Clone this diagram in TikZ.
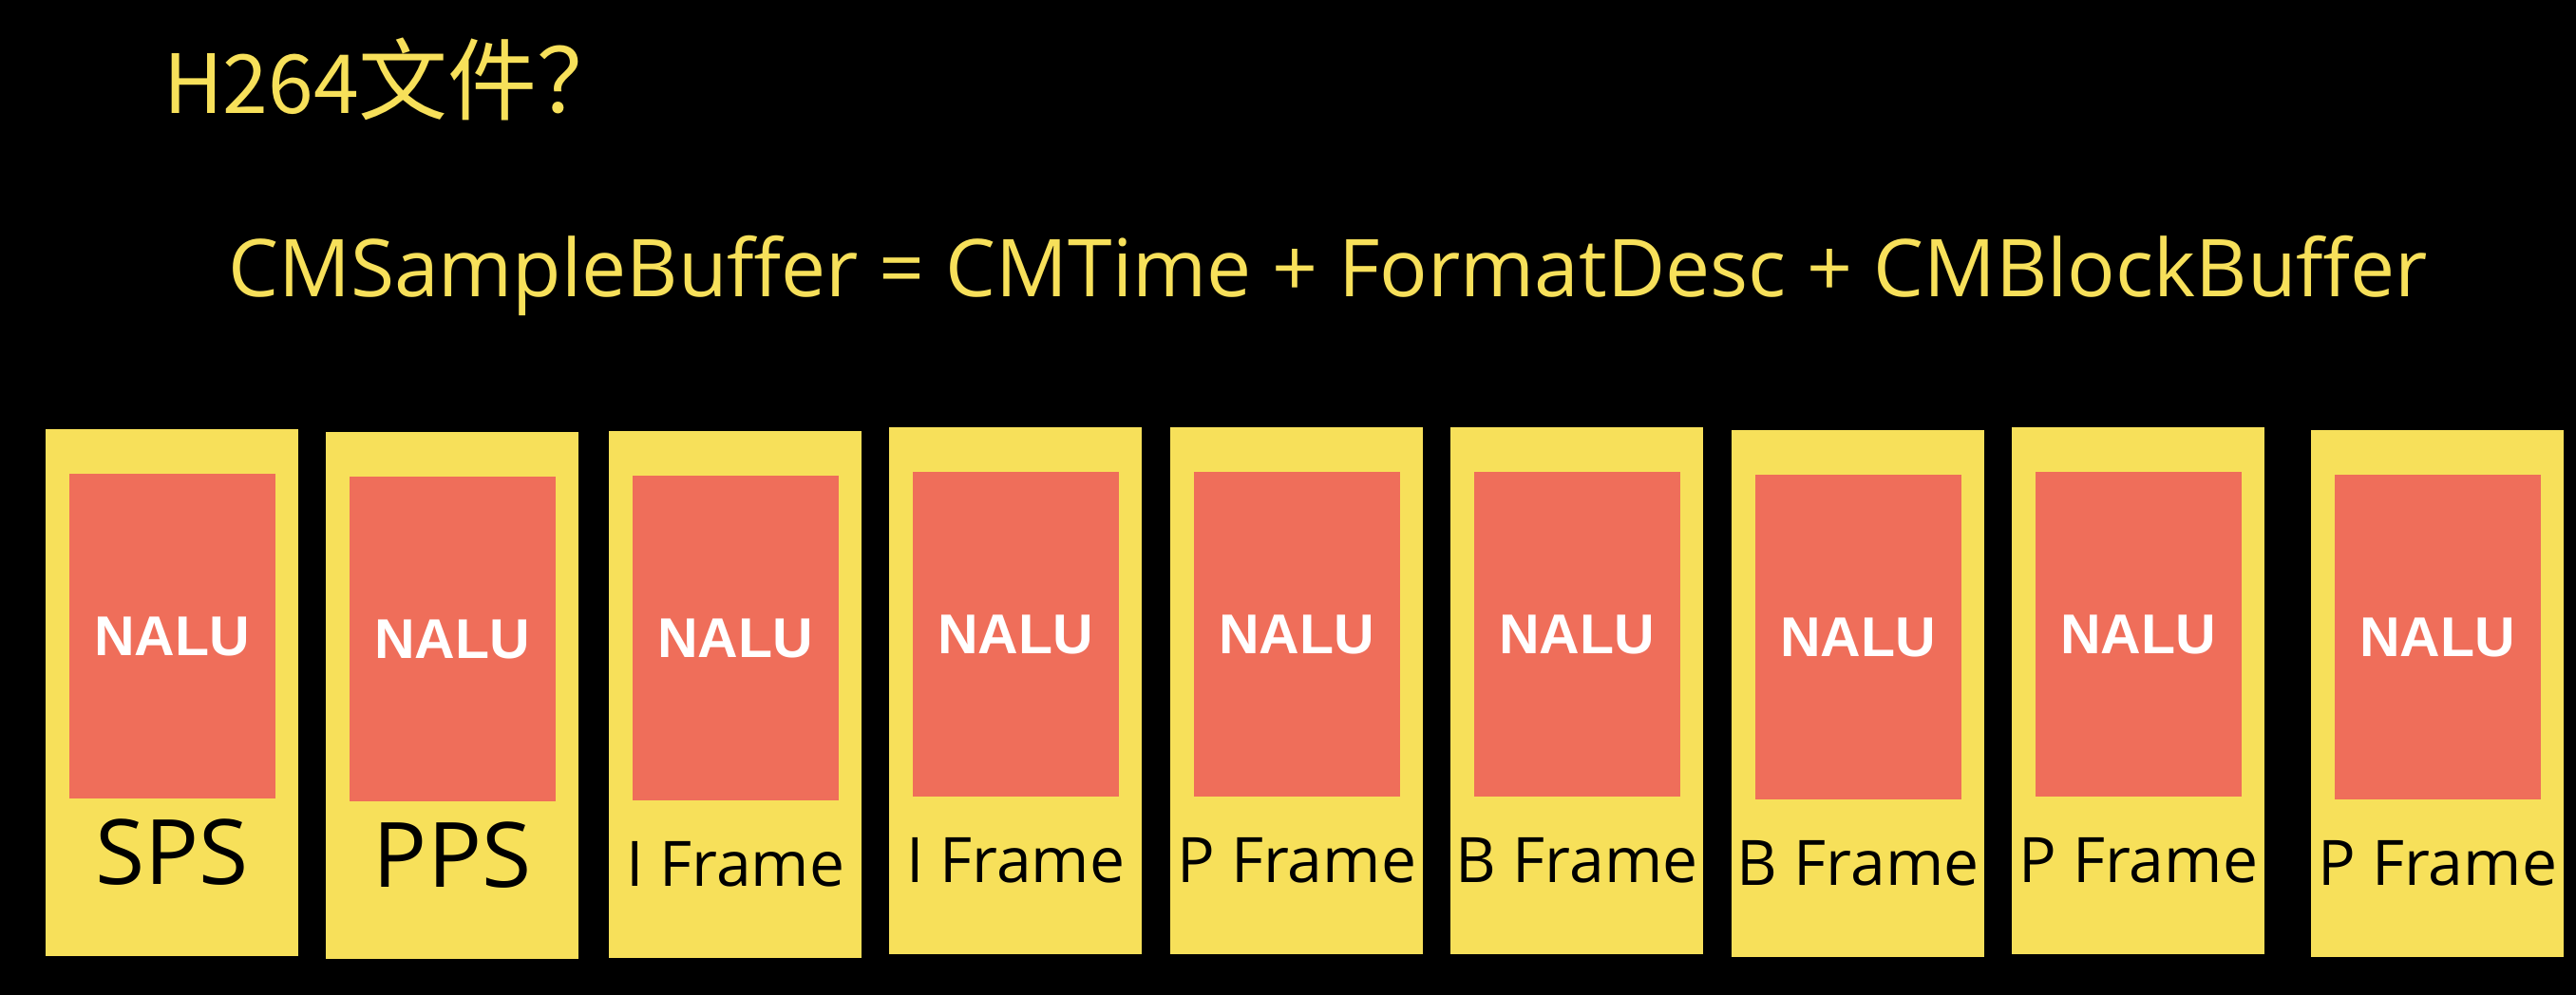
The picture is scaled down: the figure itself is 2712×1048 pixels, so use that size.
\documentclass[tikz,border=0pt]{standalone}
\usepackage{fontspec}
\setmainfont{Open Sans}
\newfontfamily\cjk{Noto Sans CJK SC}
\newfontfamily\nalufont{Liberation Sans}
\usetikzlibrary{positioning}
\definecolor{padyellow}{HTML}{F7E05A}
\definecolor{nalured}{HTML}{EF6E5A}

\begin{document}
\begin{tikzpicture}[x=1pt,y=-1pt,
  framebox/.style={fill=padyellow, anchor=north west, inner sep=0pt,
    minimum width=266pt, minimum height=555pt},
  nalubox/.style={fill=nalured, inner sep=0pt, text=white,
    minimum width=217pt, minimum height=342pt,
    font=\nalufont\bfseries\fontsize{59}{59}\selectfont},
  framelabel/.style={anchor=base, inner sep=0pt},
  headline/.style={anchor=base west, inner sep=0pt, text=padyellow}]
\fill[black] (0,0) rectangle (2712,1048);
\useasboundingbox (0,0) rectangle (2712,1048);

% titles
\node[headline, font=\cjk\fontsize{86}{86}\selectfont] (h264) at (172,120)
  {H264\fontsize{94}{94}\selectfont 文件？};
\node[headline, font=\fontsize{84}{84}\selectfont] (formula) at (240,313)
  {CMSampleBuffer = CMTime + FormatDesc + CMBlockBuffer};

% the NAL units
\foreach \i/\x/\y/\lbl/\fs in {1/48/452/SPS/95, 2/343/455/PPS/95,
    3/641/454/I Frame/66, 4/936/450/I Frame/66, 5/1232/450/P Frame/66,
    6/1527/450/B Frame/66, 7/1823/453/B Frame/66, 8/2118/450/P Frame/66,
    9/2433/453/P Frame/66}{
  \node[framebox] (frame\i) at (\x,\y) {};
  \node[nalubox, below=47pt of frame\i.north] (nalu\i) {NALU};
  \node[framelabel, font=\fontsize{\fs}{\fs}\selectfont] (label\i)
    at ([yshift=-90pt]nalu\i.south) {\lbl};
}
\end{tikzpicture}
\end{document}
